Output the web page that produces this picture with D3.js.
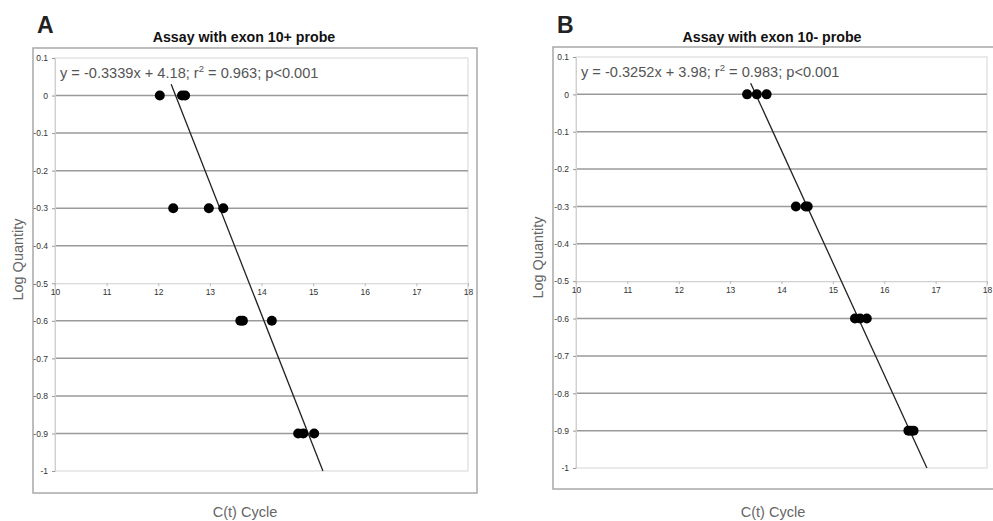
<!DOCTYPE html>
<html><head><meta charset="utf-8">
<script src="https://cdn.jsdelivr.net/npm/d3@7"></script>
<style>body{margin:0;background:#fff}svg{display:block;font-family:"Liberation Sans",Arial,sans-serif}</style>
</head><body><svg id="c" width="993" height="521"></svg>
<script>
// ---------- data ----------
const yTickValues = [0.1, 0, -0.1, -0.2, -0.3, -0.4, -0.5, -0.6, -0.7, -0.8, -0.9, -1];
const xTickValues = [10, 11, 12, 13, 14, 15, 16, 17, 18];

const ctA   = [12.03, 12.46, 12.52, 12.29, 12.98, 13.26, 13.59, 13.64, 14.20, 14.71, 14.81, 15.02];
const logQA = [0, 0, 0, -0.3, -0.3, -0.3, -0.6, -0.6, -0.6, -0.9, -0.9, -0.9];
const trendCtA   = [12.25, 15.19];
const trendLogQA = [0.03, -1.0];

const ctB   = [13.33, 13.52, 13.71, 14.28, 14.47, 14.51, 15.43, 15.53, 15.66, 16.47, 16.52, 16.57];
const logQB = [0, 0, 0, -0.3, -0.3, -0.3, -0.6, -0.6, -0.6, -0.9, -0.9, -0.9];
const trendCtB   = [13.40, 16.83];
const trendLogQB = [0.03, -1.0];

const panelLetters = ["A", "B"];
const titles = ["Assay with exon 10+ probe", "Assay with exon 10- probe"];
const equations = [
  ["y = -0.3339x + 4.18; r", "2", " = 0.963; p<0.001"],
  ["y = -0.3252x + 3.98; r", "2", " = 0.983; p<0.001"]
];
const xLabel = "C(t) Cycle";
const yLabel = "Log Quantity";

// ---------- drawing ----------
const svg = d3.select("#c");

function drawPanel(o) {
  const g = svg.append("g");
  const x = d3.scaleLinear().domain([10, 18]).range([o.pl, o.pr]);
  const y = d3.scaleLinear().domain([0.1, -1]).range([o.pt, o.pb]);

  g.append("rect").attr("x", o.bl).attr("y", o.bt).attr("width", o.br - o.bl).attr("height", o.bb - o.bt)
    .attr("fill", "#fff").attr("stroke", "#a8a8a8").attr("stroke-width", 1.5);

  g.append("rect").attr("x", o.pl).attr("y", o.pt).attr("width", o.pr - o.pl).attr("height", o.pb - o.pt)
    .attr("fill", "none").attr("stroke", "#dcdcdc").attr("stroke-width", 1.2);

  g.selectAll(".grid").data(yTickValues.filter(v => v < 0.05 && v > -0.95 && Math.abs(v + 0.5) > 1e-9))
    .join("line").attr("x1", o.pl).attr("x2", o.pr)
    .attr("y1", d => y(d)).attr("y2", d => y(d))
    .attr("stroke", "#9a9a9a").attr("stroke-width", 1.5);

  const ya = d3.axisLeft(y).tickValues(yTickValues).tickSize(3).tickPadding(4)
    .tickFormat(d => String(+d.toFixed(1)));
  const yg = g.append("g").attr("transform", `translate(${o.pl},0)`).call(ya);
  yg.select(".domain").attr("stroke", "#d0d0d0");
  yg.selectAll(".tick line").attr("stroke", "#999");
  yg.selectAll("text").attr("font-size", 8.5).attr("fill", "#333");

  const xa = d3.axisBottom(x).tickValues(xTickValues).tickSize(3).tickPadding(3);
  const xg = g.append("g").attr("transform", `translate(0,${y(-0.5)})`).call(xa);
  xg.select(".domain").attr("stroke", "#d0d0d0").attr("stroke-width", 1.2);
  xg.selectAll(".tick line").attr("stroke", "#bbb");
  xg.selectAll("text").attr("font-size", 8.5).attr("fill", "#333");

  g.append("line")
    .attr("x1", x(o.tx[0])).attr("y1", y(o.ty[0]))
    .attr("x2", x(o.tx[1])).attr("y2", y(o.ty[1]))
    .attr("stroke", "#222").attr("stroke-width", 1.3);

  g.selectAll(".pt").data(o.cx.map((c, i) => [c, o.cy[i]])).join("circle")
    .attr("cx", d => x(d[0])).attr("cy", d => y(d[1])).attr("r", 5).attr("fill", "#000");

  const eq = g.append("text").attr("x", o.pl + 5).attr("y", o.pt + 20)
    .attr("font-size", 14.6).attr("fill", "#555");
  eq.append("tspan").text(o.eq[0]);
  eq.append("tspan").text(o.eq[1]).attr("font-size", 9.5).attr("dy", -6);
  eq.append("tspan").text(o.eq[2]).attr("dy", 6);

  g.append("text").attr("x", o.tc).attr("y", 42).attr("text-anchor", "middle")
    .attr("font-size", 14.2).attr("font-weight", "bold").attr("fill", "#111").text(o.title);
  g.append("text").attr("x", o.bl + 4).attr("y", 33).attr("font-size", 23)
    .attr("font-weight", "bold").attr("fill", "#222").text(o.letter);

  g.append("text").attr("x", o.xc).attr("y", 517).attr("text-anchor", "middle")
    .attr("font-size", 14.5).attr("fill", "#666").text(xLabel);
  g.append("text").attr("transform", `translate(${o.bl - 10},${(o.pt + o.pb) / 2 - 5}) rotate(-90)`)
    .attr("text-anchor", "middle").attr("font-size", 14.5).attr("fill", "#666").text(yLabel);
}

drawPanel({bl: 33, br: 477, bt: 48, bb: 493, pl: 55, pr: 468, pt: 58, pb: 471, tc: 244, xc: 245,
  cx: ctA, cy: logQA, tx: trendCtA, ty: trendLogQA, eq: equations[0], title: titles[0], letter: panelLetters[0]});
drawPanel({bl: 553, br: 997, bt: 47, bb: 489, pl: 576, pr: 987, pt: 57, pb: 468, tc: 772, xc: 773,
  cx: ctB, cy: logQB, tx: trendCtB, ty: trendLogQB, eq: equations[1], title: titles[1], letter: panelLetters[1]});
</script></body></html>
